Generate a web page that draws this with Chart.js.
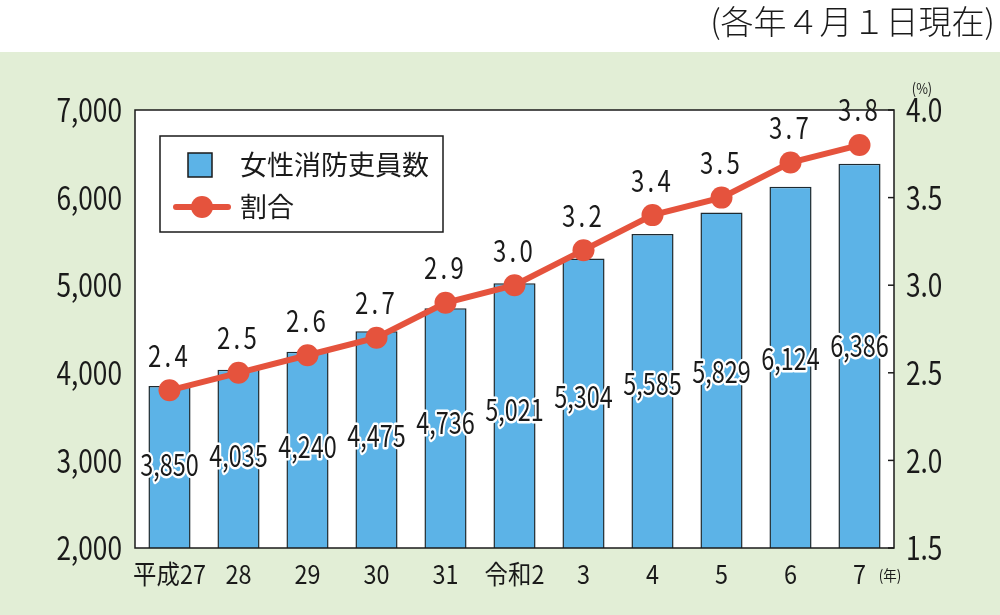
<!DOCTYPE html>
<html lang="ja">
  <head>
    <meta charset="UTF-8" />
    <title>女性消防吏員数と割合</title>
    <style>
      body { margin: 0; background: #fff; }
      #wrap { width: 1000px; height: 615px; position: relative; }
    </style>
  </head>
  <body>
    <div id="wrap"><canvas id="chart"></canvas></div>
    <script src="https://cdn.jsdelivr.net/npm/chart.js@4.4.1/dist/chart.umd.min.js"></script>
    <script>
      const years = ["平成27", "28", "29", "30", "31", "令和2", "3", "4", "5", "6", "7"];
      const staff = [3850, 4035, 4240, 4475, 4736, 5021, 5304, 5585, 5829, 6124, 6386];
      const ratio = [2.4, 2.5, 2.6, 2.7, 2.9, 3.0, 3.2, 3.4, 3.5, 3.7, 3.8];
      const leftTicks = ["2,000", "3,000", "4,000", "5,000", "6,000", "7,000"];
      const rightTicks = ["1.5", "2.0", "2.5", "3.0", "3.5", "4.0"];

      const FONT = '"Noto Sans CJK JP", "Noto Sans", sans-serif';
      const INK = "#1a1a1a";
      const BLUE = "#5cb3e7";
      const RED = "#e5533d";

      // text with horizontal squeeze, like the narrow face of the original
      const text = (ctx, str, x, y, o) => {
        ctx.save();
        ctx.translate(x, y);
        ctx.scale(o.sx || 1, 1);
        ctx.font = (o.weight || 400) + " " + o.size + "px " + FONT;
        ctx.textAlign = o.align || "center";
        ctx.textBaseline = "middle";
        if (o.spacing) ctx.letterSpacing = o.spacing + "px";
        if (o.halo) {
          ctx.strokeStyle = "#fff";
          ctx.lineWidth = o.halo;
          ctx.lineJoin = "round";
          ctx.strokeText(str, 0, 0);
        }
        ctx.fillStyle = INK;
        ctx.fillText(str, 0, 0);
        ctx.restore();
      };

      const decor = {
        id: "decor",
        beforeDraw(chart) {
          const { ctx, chartArea: a, width, height } = chart;
          ctx.save();
          ctx.fillStyle = "#fff";
          ctx.fillRect(0, 0, width, 52);
          ctx.fillStyle = "#e2eed6";
          ctx.fillRect(0, 52, width, height - 52);
          ctx.fillStyle = "#fff";
          ctx.fillRect(a.left, a.top, a.right - a.left, a.bottom - a.top);
          ctx.restore();
          text(ctx, "(各年４月１日現在)", 995, 21, { size: 33, align: "right", weight: 300 });
          text(ctx, "(%)", 922, 88, { size: 15, sx: 0.85 });
        },
        afterDatasetsDraw(chart) {
          const { ctx, chartArea: a, scales } = chart;
          // axis labels
          scales.y.ticks.forEach((t, i) => {
            text(ctx, leftTicks[i], 122, scales.y.getPixelForValue(t.value), { size: 32, sx: 0.82, align: "right" });
          });
          ctx.save();
          ctx.strokeStyle = INK;
          ctx.lineWidth = 1.5;
          scales.y1.ticks.forEach((t, i) => {
            const py = scales.y1.getPixelForValue(t.value);
            ctx.beginPath();
            ctx.moveTo(a.right - 6, py);
            ctx.lineTo(a.right, py);
            ctx.stroke();
            text(ctx, rightTicks[i], 906, py, { size: 32, sx: 0.82, align: "left" });
          });
          ctx.strokeRect(a.left, a.top, a.right - a.left, a.bottom - a.top);
          ctx.restore();
          years.forEach((lab, i) => {
            text(ctx, lab, scales.x.getPixelForValue(i), 574, { size: 26, sx: 0.9 });
          });
          text(ctx, "(年)", 890, 575, { size: 15, sx: 0.9 });

          // bar values inside bars, a little above halfway
          chart.getDatasetMeta(0).data.forEach((bar, i) => {
            const mid = (bar.y + a.bottom) / 2 - 2 - i * 0.8;
            text(ctx, staff[i].toLocaleString("en-US"), bar.x, mid, { size: 30, sx: 0.78, halo: 5 });
          });
          // ratio values above points
          chart.getDatasetMeta(1).data.forEach((pt, i) => {
            text(ctx, ratio[i].toFixed(1), pt.x, pt.y - 35, { size: 30, sx: 0.8, spacing: 4 });
          });

          // legend
          ctx.save();
          ctx.fillStyle = "#fff";
          ctx.strokeStyle = INK;
          ctx.lineWidth = 1.5;
          ctx.fillRect(160, 136, 283, 96);
          ctx.strokeRect(160, 136, 283, 96);
          ctx.fillStyle = BLUE;
          ctx.fillRect(188, 153, 24, 24);
          ctx.strokeRect(188, 153, 24, 24);
          ctx.strokeStyle = RED;
          ctx.lineWidth = 6;
          ctx.lineCap = "round";
          ctx.beginPath();
          ctx.moveTo(176, 207);
          ctx.lineTo(228, 207);
          ctx.stroke();
          ctx.fillStyle = RED;
          ctx.beginPath();
          ctx.arc(202, 207, 11, 0, Math.PI * 2);
          ctx.fill();
          ctx.restore();
          text(ctx, "女性消防吏員数", 240, 165, { size: 27, align: "left" });
          text(ctx, "割合", 240, 207, { size: 27, align: "left" });
        },
      };

      new Chart(document.getElementById("chart"), {
        data: {
          labels: years,
          datasets: [
            {
              type: "bar",
              label: "女性消防吏員数",
              data: staff,
              yAxisID: "y",
              backgroundColor: BLUE,
              borderColor: "#1e2a30",
              borderWidth: 1.5,
              barPercentage: 0.61,
              categoryPercentage: 1,
              order: 2,
            },
            {
              type: "line",
              label: "割合",
              data: ratio,
              yAxisID: "y1",
              borderColor: RED,
              backgroundColor: RED,
              borderWidth: 6,
              pointRadius: 11,
              pointBorderWidth: 0,
              pointBackgroundColor: RED,
              tension: 0,
              order: 1,
            },
          ],
        },
        options: {
          responsive: true,
          maintainAspectRatio: false,
          animation: false,
          layout: { padding: { left: 135, right: 106, top: 110, bottom: 67 } },
          plugins: { legend: { display: false }, tooltip: { enabled: false } },
          scales: {
            x: { display: false, offset: true, grid: { display: false } },
            y: { display: false, min: 2000, max: 7000, ticks: { stepSize: 1000 } },
            y1: { display: false, position: "right", min: 1.5, max: 4, ticks: { stepSize: 0.5 } },
          },
        },
        plugins: [decor],
      });
    </script>
  </body>
</html>
